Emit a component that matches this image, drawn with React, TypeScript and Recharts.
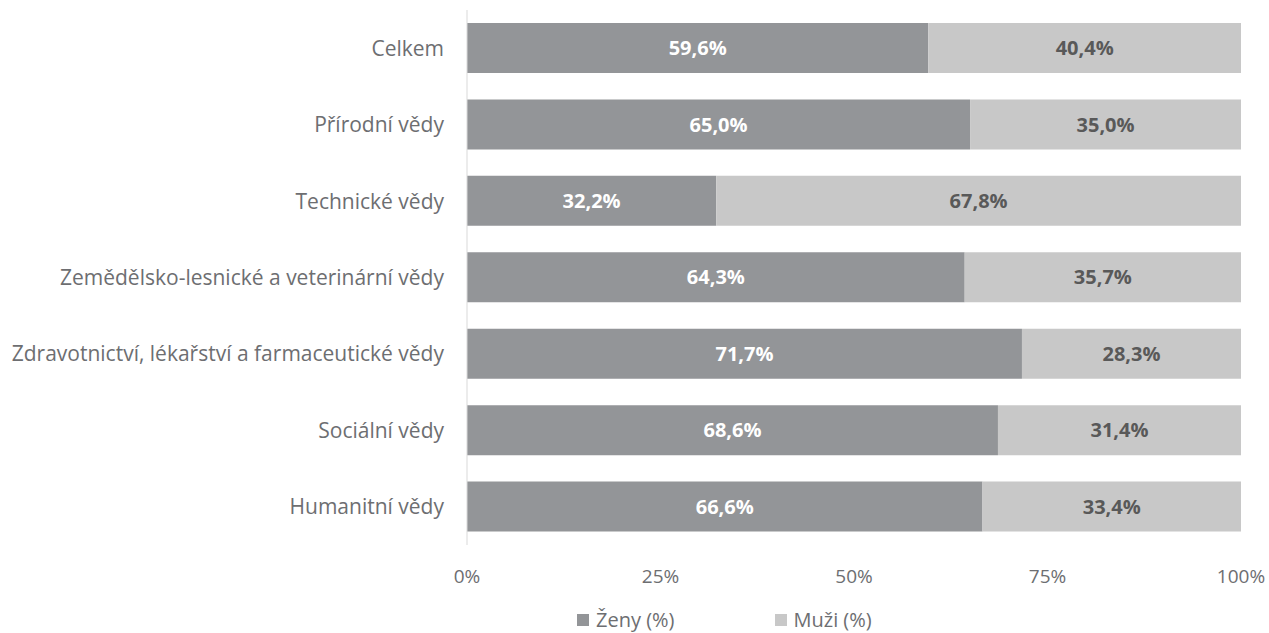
import React from "react";
import {
  BarChart,
  Bar,
  XAxis,
  YAxis,
  Legend,
  LabelList,
} from "recharts";

const categories = [
  "Celkem",
  "Přírodní vědy",
  "Technické vědy",
  "Zemědělsko-lesnické a veterinární vědy",
  "Zdravotnictví, lékařství a farmaceutické vědy",
  "Sociální vědy",
  "Humanitní vědy",
];
const zeny = [59.6, 65.0, 32.2, 64.3, 71.7, 68.6, 66.6];
const muzi = [40.4, 35.0, 67.8, 35.7, 28.3, 31.4, 33.4];
const xTicks = [0, 25, 50, 75, 100];

const FONT = "'Open Sans', sans-serif";
const DARK = "#939598";
const LIGHT = "#c8c8c8";
const TEXT = "#6d6e71";
const LABEL_DARK = "#595959";

const data = categories.map((name, i) => ({
  name,
  zeny: zeny[i],
  muzi: muzi[i],
}));

const fmt = (v: any) => `${Number(v).toFixed(1).replace(".", ",")}%`;

const LegendContent = () => (
  <div
    style={{
      display: "flex",
      paddingLeft: 577,
      paddingTop: 5,
      fontFamily: FONT,
      fontSize: 20,
      color: TEXT,
      alignItems: "center",
    }}
  >
    <span style={{ display: "inline-flex", alignItems: "center" }}>
      <span
        style={{ width: 12, height: 12, background: DARK, marginRight: 7 }}
      />
      Ženy (%)
    </span>
    <span
      style={{ display: "inline-flex", alignItems: "center", marginLeft: 100 }}
    >
      <span
        style={{ width: 12, height: 12, background: LIGHT, marginRight: 7 }}
      />
      Muži (%)
    </span>
  </div>
);

export default function App() {
  return (
    <div
      style={{
        position: "absolute",
        left: 0,
        top: 0,
        width: 1269,
        height: 633,
        background: "#fff",
      }}
    >
      <BarChart
        width={1269}
        height={633}
        data={data}
        layout="vertical"
        margin={{ top: 10, right: 28, left: 0, bottom: 0 }}
        barCategoryGap="17%"
      >
        <XAxis
          type="number"
          domain={[0, 100]}
          ticks={xTicks}
          tickFormatter={(v) => `${v}%`}
          axisLine={false}
          tickLine={false}
          tickSize={0}
          tickMargin={25}
          height={56}
          tick={{ fill: TEXT, fontSize: 19, fontFamily: FONT }}
        />
        <YAxis
          type="category"
          dataKey="name"
          width={467}
          axisLine={{ stroke: "#d9d9d9", strokeWidth: 1 }}
          tickLine={false}
          tickSize={0}
          tickMargin={23}
          tick={{ fill: TEXT, fontSize: 21, fontFamily: FONT }}
        />
        <Legend verticalAlign="bottom" height={32} content={<LegendContent />} />
        <Bar dataKey="zeny" stackId="a" fill={DARK} isAnimationActive={false}>
          <LabelList
            dataKey="zeny"
            position="center"
            formatter={fmt}
            fill="#ffffff"
            style={{ fontFamily: FONT, fontSize: 20, fontWeight: 700 }}
          />
        </Bar>
        <Bar dataKey="muzi" stackId="a" fill={LIGHT} isAnimationActive={false}>
          <LabelList
            dataKey="muzi"
            position="center"
            formatter={fmt}
            fill={LABEL_DARK}
            style={{ fontFamily: FONT, fontSize: 20, fontWeight: 700 }}
          />
        </Bar>
      </BarChart>
    </div>
  );
}
